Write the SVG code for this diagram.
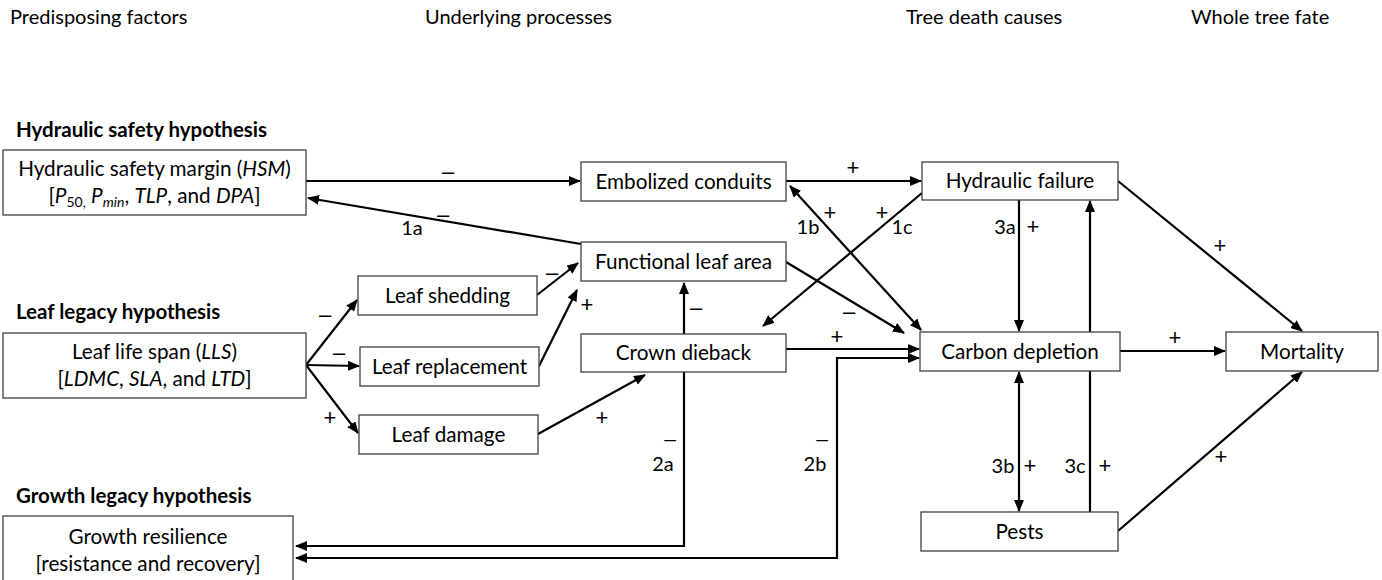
<svg xmlns="http://www.w3.org/2000/svg" width="1382" height="580" viewBox="0 0 1382 580">
<defs>
<marker id="ah" markerUnits="userSpaceOnUse" markerWidth="12" markerHeight="10" refX="11" refY="5" orient="auto-start-reverse" viewBox="0 0 12 10">
<path d="M0,0 L12,5 L0,10 z" fill="#000"/>
</marker>
<style>
.box{fill:#fff;stroke:#404040;stroke-width:1.3}
.t{font-family:Lato,"Liberation Sans",sans-serif;font-size:20.7px;fill:#000;text-anchor:middle}
.h{font-family:Lato,"Liberation Sans",sans-serif;font-size:20px;fill:#000}
.hb{font-family:Lato,"Liberation Sans",sans-serif;font-size:20.5px;font-weight:bold;fill:#000}
.l{font-family:Lato,"Liberation Sans",sans-serif;font-size:20px;fill:#000;text-anchor:middle}
.s{font-family:"Liberation Sans",Arial,sans-serif;font-size:22px;fill:#000;text-anchor:middle}
.d{font-family:"Liberation Sans",Arial,sans-serif;font-size:21px;fill:#000;text-anchor:middle}
.c{fill:none;stroke:#000;stroke-width:2.2}
.a{marker-end:url(#ah)}
.b{marker-start:url(#ah);marker-end:url(#ah)}
</style>
</defs>
<g id="headers">
<text class="h" x="10" y="24">Predisposing factors</text>
<text class="h" x="425" y="24">Underlying processes</text>
<text class="h" x="906" y="24">Tree death causes</text>
<text class="h" x="1191" y="24">Whole tree fate</text>
<text class="hb" x="16" y="137">Hydraulic safety hypothesis</text>
<text class="hb" x="16" y="319">Leaf legacy hypothesis</text>
<text class="hb" x="16" y="503">Growth legacy hypothesis</text>
</g>
<g id="connectors">
<line class="c a" x1="306" y1="181" x2="580" y2="181"/>
<line class="c a" x1="581" y1="244" x2="308" y2="198"/>
<line class="c a" x1="786" y1="181" x2="921" y2="181"/>
<line class="c b" x1="790" y1="186" x2="921" y2="330"/>
<line class="c a" x1="922" y1="193" x2="763" y2="326"/>
<line class="c a" x1="786" y1="262" x2="904" y2="333"/>
<line class="c a" x1="786" y1="349" x2="919" y2="349"/>
<polyline class="c b" points="919,358 837,358 837,558 296,558"/>
<polyline class="c a" points="684,372 684,546 296,546"/>
<line class="c a" x1="684" y1="334" x2="684" y2="283"/>
<line class="c a" x1="537" y1="295" x2="578" y2="263"/>
<line class="c a" x1="539" y1="366" x2="577" y2="290"/>
<line class="c a" x1="306" y1="365" x2="357" y2="300"/>
<line class="c a" x1="306" y1="365" x2="359" y2="366"/>
<line class="c a" x1="306" y1="365" x2="358" y2="433"/>
<line class="c a" x1="538" y1="434" x2="645" y2="375"/>
<line class="c a" x1="1019" y1="200" x2="1019" y2="331"/>
<line class="c a" x1="1090" y1="512" x2="1090" y2="201"/>
<line class="c a" x1="1120" y1="351" x2="1225" y2="351"/>
<line class="c a" x1="1118" y1="181" x2="1302" y2="331"/>
<line class="c b" x1="1019" y1="372" x2="1019" y2="511"/>
<line class="c a" x1="1118" y1="531" x2="1302" y2="372"/>
</g>
<g id="labels">
<text class="s" x="448" y="179">–</text>
<text class="s" x="443" y="222">–</text>
<text class="l" x="412" y="235">1a</text>
<text class="s" x="853" y="175">+</text>
<text class="s" x="830" y="220">+</text>
<text class="l" x="808" y="234">1b</text>
<text class="s" x="882" y="220">+</text>
<text class="l" x="902" y="234">1c</text>
<text class="l" x="1005" y="234">3a</text>
<text class="s" x="1033" y="234">+</text>
<text class="s" x="849" y="319">–</text>
<text class="s" x="837" y="344">+</text>
<text class="s" x="696" y="315">–</text>
<text class="s" x="552" y="280">–</text>
<text class="s" x="587" y="312">+</text>
<text class="s" x="325" y="322">–</text>
<text class="s" x="339" y="360">–</text>
<text class="s" x="330" y="425">+</text>
<text class="s" x="602" y="425">+</text>
<text class="d" x="670" y="446">–</text>
<text class="l" x="663" y="471">2a</text>
<text class="d" x="822" y="446">–</text>
<text class="l" x="815" y="471">2b</text>
<text class="l" x="1003" y="473">3b</text>
<text class="s" x="1030" y="473">+</text>
<text class="l" x="1075" y="473">3c</text>
<text class="s" x="1105" y="473">+</text>
<text class="s" x="1175" y="345">+</text>
<text class="s" x="1220" y="253">+</text>
<text class="s" x="1221" y="464">+</text>
</g>
<g id="hsm">
<rect class="box" x="3" y="150" width="303" height="65"/>
<text class="t" x="154.5" y="176">Hydraulic safety margin (<tspan font-style="italic">HSM</tspan>)</text>
<text class="t" x="154.5" y="203">[<tspan font-style="italic">P</tspan><tspan font-size="14" dy="4">50,</tspan><tspan dy="-4"> </tspan><tspan font-style="italic">P</tspan><tspan font-size="14" dy="4" font-style="italic">min</tspan><tspan dy="-4">, </tspan><tspan font-style="italic">TLP</tspan>, and <tspan font-style="italic">DPA</tspan>]</text>
</g>
<g id="lls">
<rect class="box" x="3" y="333" width="303" height="65"/>
<text class="t" x="154.5" y="359">Leaf life span (<tspan font-style="italic">LLS</tspan>)</text>
<text class="t" x="154.5" y="386">[<tspan font-style="italic">LDMC</tspan>, <tspan font-style="italic">SLA</tspan>, and <tspan font-style="italic">LTD</tspan>]</text>
</g>
<g id="growth">
<rect class="box" x="3" y="516" width="290" height="68"/>
<text class="t" x="148" y="544">Growth resilience</text>
<text class="t" x="148" y="571">[resistance and recovery]</text>
</g>
<g id="embolized">
<rect class="box" x="581" y="162" width="205" height="39"/>
<text class="t" x="683.5" y="189">Embolized conduits</text>
</g>
<g id="functional">
<rect class="box" x="581" y="242" width="205" height="39"/>
<text class="t" x="683.5" y="269">Functional leaf area</text>
</g>
<g id="shedding">
<rect class="box" x="358" y="276" width="179" height="39"/>
<text class="t" x="447.5" y="303">Leaf shedding</text>
</g>
<g id="replacement">
<rect class="box" x="360" y="347" width="179" height="39"/>
<text class="t" x="449.5" y="374">Leaf replacement</text>
</g>
<g id="damage">
<rect class="box" x="359" y="415" width="179" height="39"/>
<text class="t" x="448.5" y="442">Leaf damage</text>
</g>
<g id="crown">
<rect class="box" x="581" y="334" width="205" height="38"/>
<text class="t" x="683.5" y="360">Crown dieback</text>
</g>
<g id="hydraulic">
<rect class="box" x="922" y="162" width="196" height="38"/>
<text class="t" x="1020" y="188">Hydraulic failure</text>
</g>
<g id="carbon">
<rect class="box" x="920" y="332" width="200" height="39"/>
<text class="t" x="1020" y="359">Carbon depletion</text>
</g>
<g id="mortality">
<rect class="box" x="1226" y="332" width="152" height="39"/>
<text class="t" x="1302" y="359">Mortality</text>
</g>
<g id="pests">
<rect class="box" x="921" y="512" width="197" height="39"/>
<text class="t" x="1019.5" y="539">Pests</text>
</g>
</svg>
